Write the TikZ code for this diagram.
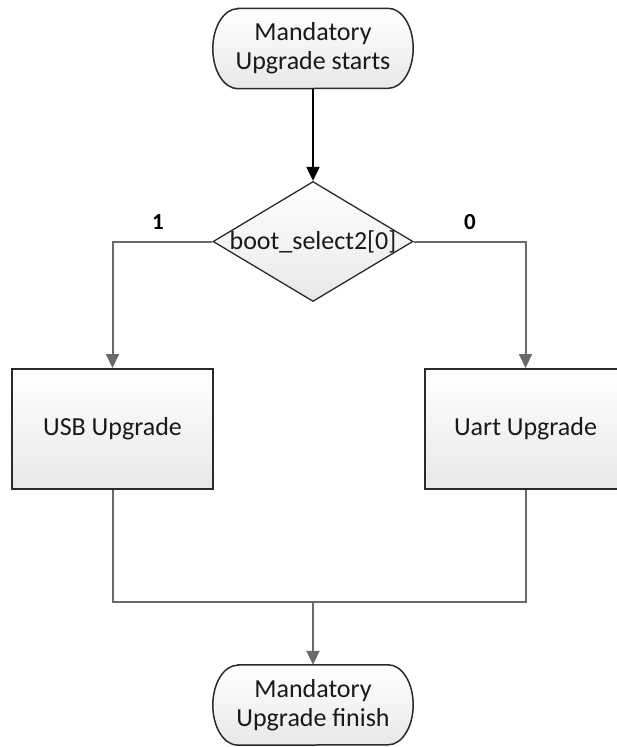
\documentclass[tikz,border=0pt]{standalone}
\usepackage{fontspec}
\setmainfont{Carlito}
\usetikzlibrary{arrows.meta,shapes.geometric}
\definecolor{edgegray}{HTML}{6A6A6A}
\definecolor{boxline}{HTML}{2A2A2A}
\tikzset{
  x=1pt, y=-1pt,
  txt/.style={font=\fontsize{26}{29}\selectfont, text=black!90, align=center},
  fillshade/.style={top color=white, bottom color=black!9, shading angle=0},
  termtext/.style={txt, minimum width=200pt, minimum height=80pt, inner sep=0pt},
  termline/.style={draw=boxline, line width=1.5pt, fillshade},
  procbox/.style={txt, draw=boxline, line width=2pt, fillshade, minimum width=201pt, minimum height=120pt, inner sep=0pt},
  decbox/.style={diamond, draw=boxline, line width=1.3pt, fillshade, minimum width=200pt, minimum height=120pt, inner sep=0pt},
  conn/.style={draw=edgegray, line width=2pt, -{Triangle[width=13pt,length=14pt]}},
  plainconn/.style={draw=edgegray, line width=2pt},
  branchlbl/.style={font=\fontsize{23}{26}\selectfont\bfseries, text=black}
}
\begin{document}
\begin{tikzpicture}
\clip (0,0) rectangle (617,747);
% start terminator
\node[termtext] (s) at (313,48.5) {};
\path[termline] ([xshift=25pt]s.north west) -- ([xshift=-25pt]s.north east)
  arc[start angle=90,end angle=-90,x radius=25pt,y radius=40pt]
  -- ([xshift=25pt]s.south west)
  arc[start angle=270,end angle=90,x radius=25pt,y radius=40pt] -- cycle;
\node[txt] (stxt) at (s) {Mandatory\\Upgrade starts};
% decision
\node[decbox, label={[txt]center:boot\_select2[0]}] (d) at (313,241.5) {};
% process boxes
\node[procbox] (usb) at (112.5,429) {USB Upgrade};
\node[procbox] (uart) at (525.5,429) {Uart Upgrade};
% end terminator
\node[termtext] (e) at (313,705) {};
\path[termline] ([xshift=25pt]e.north west) -- ([xshift=-25pt]e.north east)
  arc[start angle=90,end angle=-90,x radius=25pt,y radius=40pt]
  -- ([xshift=25pt]e.south west)
  arc[start angle=270,end angle=90,x radius=25pt,y radius=40pt] -- cycle;
\node[txt] (etxt) at (e) {Mandatory\\Upgrade finish};
% connectors
\draw[conn, draw=black] (s.south) -- (d.north);
\draw[conn] (d.west) -| (usb.north);
\draw[conn] (d.east) -| (uart.north);
\coordinate (m) at (313,601.5);
\draw[plainconn] (usb.south) |- (m) -| (uart.south);
\draw[conn] (m) -- (e.north);
% branch labels
\node[branchlbl] (one) at (158,222) {1};
\node[branchlbl] (zero) at (470,222) {0};
\end{tikzpicture}
\end{document}
